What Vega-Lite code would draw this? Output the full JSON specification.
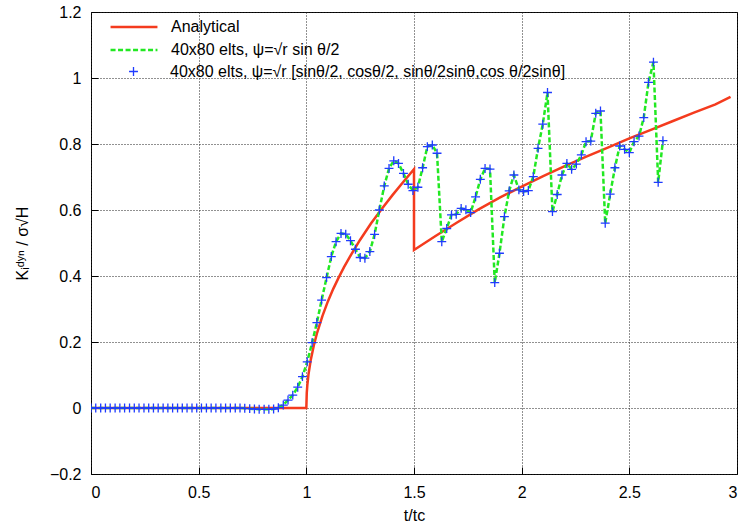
{
  "$schema": "https://vega.github.io/schema/vega-lite/v6.json",
  "width": 646,
  "height": 462,
  "autosize": {"type": "none"},
  "padding": {"left": 91, "top": 12, "right": 2, "bottom": 54},
  "background": "white",
  "config": {
    "view": {"stroke": "black", "strokeWidth": 1},
    "font": "Liberation Sans",
    "axis": {
      "labelFont": "Liberation Sans", "labelFontSize": 16, "labelColor": "black",
      "titleFont": "Liberation Sans", "titleFontSize": 16, "titleFontWeight": "normal", "titleColor": "black",
      "domain": false, "tickColor": "black", "tickWidth": 1,
      "gridColor": "#222", "gridDash": [1, 2], "gridOpacity": 1, "gridWidth": 1
    },
    "legend": {
      "orient": "none", "title": null, "padding": 0,
      "labelFont": "Liberation Sans", "labelFontSize": 16, "labelColor": "black", "labelLimit": 700,
      "labelOffset": 12, "symbolSize": 2200, "rowPadding": 0
    }
  },
  "datasets": {
    "ana": [
      {"t": 0, "k": 0}, {"t": 1, "k": 0}, {"t": 1.002, "k": 0.046}, {"t": 1.005, "k": 0.072},
      {"t": 1.01, "k": 0.102}, {"t": 1.02, "k": 0.144}, {"t": 1.035, "k": 0.19}, {"t": 1.05, "k": 0.228},
      {"t": 1.075, "k": 0.279}, {"t": 1.1, "k": 0.323}, {"t": 1.125, "k": 0.361}, {"t": 1.15, "k": 0.395},
      {"t": 1.175, "k": 0.427}, {"t": 1.2, "k": 0.456}, {"t": 1.25, "k": 0.51}, {"t": 1.3, "k": 0.559},
      {"t": 1.35, "k": 0.603}, {"t": 1.4, "k": 0.645}, {"t": 1.45, "k": 0.685}, {"t": 1.5, "k": 0.724},
      {"t": 1.5, "k": 0.479}, {"t": 1.6, "k": 0.521}, {"t": 1.7, "k": 0.562}, {"t": 1.8, "k": 0.602},
      {"t": 1.9, "k": 0.638}, {"t": 2.0, "k": 0.671}, {"t": 2.1, "k": 0.703}, {"t": 2.2, "k": 0.733},
      {"t": 2.3, "k": 0.762}, {"t": 2.4, "k": 0.789}, {"t": 2.5, "k": 0.817}, {"t": 2.6, "k": 0.843},
      {"t": 2.7, "k": 0.869}, {"t": 2.8, "k": 0.895}, {"t": 2.9, "k": 0.92}, {"t": 2.97, "k": 0.943}
    ],
    "num": [
      {"t": 0, "k": 0}, {"t": 0.022, "k": 0}, {"t": 0.045, "k": 0}, {"t": 0.067, "k": 0},
      {"t": 0.089, "k": 0}, {"t": 0.112, "k": 0}, {"t": 0.134, "k": 0}, {"t": 0.156, "k": 0},
      {"t": 0.179, "k": 0}, {"t": 0.201, "k": 0}, {"t": 0.223, "k": 0}, {"t": 0.246, "k": 0},
      {"t": 0.268, "k": 0}, {"t": 0.29, "k": 0}, {"t": 0.312, "k": 0}, {"t": 0.335, "k": 0},
      {"t": 0.357, "k": 0}, {"t": 0.379, "k": 0}, {"t": 0.402, "k": 0}, {"t": 0.424, "k": 0},
      {"t": 0.446, "k": 0}, {"t": 0.469, "k": 0}, {"t": 0.491, "k": 0}, {"t": 0.513, "k": 0},
      {"t": 0.536, "k": 0}, {"t": 0.558, "k": 0}, {"t": 0.58, "k": 0}, {"t": 0.603, "k": 0},
      {"t": 0.625, "k": 0}, {"t": 0.647, "k": 0}, {"t": 0.67, "k": 0}, {"t": 0.692, "k": 0},
      {"t": 0.714, "k": -0.001}, {"t": 0.737, "k": -0.002}, {"t": 0.759, "k": -0.003}, {"t": 0.781, "k": -0.004},
      {"t": 0.804, "k": -0.004}, {"t": 0.826, "k": -0.004}, {"t": 0.848, "k": -0.003}, {"t": 0.87, "k": 0.001},
      {"t": 0.893, "k": 0.009}, {"t": 0.915, "k": 0.024}, {"t": 0.937, "k": 0.039}, {"t": 0.96, "k": 0.063},
      {"t": 0.982, "k": 0.095}, {"t": 1.004, "k": 0.14}, {"t": 1.027, "k": 0.198}, {"t": 1.049, "k": 0.259},
      {"t": 1.071, "k": 0.327}, {"t": 1.094, "k": 0.395}, {"t": 1.116, "k": 0.459}, {"t": 1.138, "k": 0.504},
      {"t": 1.161, "k": 0.529}, {"t": 1.183, "k": 0.527}, {"t": 1.205, "k": 0.507}, {"t": 1.228, "k": 0.481},
      {"t": 1.25, "k": 0.456}, {"t": 1.272, "k": 0.454}, {"t": 1.295, "k": 0.474}, {"t": 1.317, "k": 0.526},
      {"t": 1.339, "k": 0.6}, {"t": 1.362, "k": 0.673}, {"t": 1.384, "k": 0.726}, {"t": 1.406, "k": 0.749},
      {"t": 1.428, "k": 0.741}, {"t": 1.451, "k": 0.711}, {"t": 1.473, "k": 0.678}, {"t": 1.495, "k": 0.659},
      {"t": 1.518, "k": 0.669}, {"t": 1.54, "k": 0.728}, {"t": 1.562, "k": 0.792}, {"t": 1.585, "k": 0.797},
      {"t": 1.607, "k": 0.772}, {"t": 1.629, "k": 0.504}, {"t": 1.652, "k": 0.544}, {"t": 1.674, "k": 0.585},
      {"t": 1.696, "k": 0.587}, {"t": 1.719, "k": 0.605}, {"t": 1.741, "k": 0.601}, {"t": 1.763, "k": 0.592},
      {"t": 1.786, "k": 0.64}, {"t": 1.808, "k": 0.693}, {"t": 1.83, "k": 0.726}, {"t": 1.853, "k": 0.724},
      {"t": 1.875, "k": 0.38}, {"t": 1.897, "k": 0.469}, {"t": 1.92, "k": 0.58}, {"t": 1.942, "k": 0.658},
      {"t": 1.964, "k": 0.706}, {"t": 1.987, "k": 0.661}, {"t": 2.009, "k": 0.656}, {"t": 2.031, "k": 0.659},
      {"t": 2.054, "k": 0.701}, {"t": 2.076, "k": 0.787}, {"t": 2.098, "k": 0.86}, {"t": 2.12, "k": 0.956},
      {"t": 2.143, "k": 0.595}, {"t": 2.165, "k": 0.647}, {"t": 2.187, "k": 0.706}, {"t": 2.21, "k": 0.741},
      {"t": 2.232, "k": 0.723}, {"t": 2.254, "k": 0.739}, {"t": 2.277, "k": 0.767}, {"t": 2.299, "k": 0.807},
      {"t": 2.321, "k": 0.809}, {"t": 2.344, "k": 0.893}, {"t": 2.366, "k": 0.9}, {"t": 2.388, "k": 0.56},
      {"t": 2.411, "k": 0.648}, {"t": 2.433, "k": 0.728}, {"t": 2.455, "k": 0.794}, {"t": 2.478, "k": 0.784},
      {"t": 2.5, "k": 0.774}, {"t": 2.522, "k": 0.807}, {"t": 2.545, "k": 0.824}, {"t": 2.567, "k": 0.88},
      {"t": 2.589, "k": 0.987}, {"t": 2.612, "k": 1.048}, {"t": 2.634, "k": 0.684}, {"t": 2.656, "k": 0.81}
    ]
  },
  "encoding": {
    "x": {"field": "t", "type": "quantitative", "scale": {"domain": [0, 3], "nice": false, "zero": false},
          "axis": {"orient": "bottom", "title": "t/tc", "values": [0, 0.5, 1, 1.5, 2, 2.5, 3], "format": "~g",
                   "offset": -7, "tickSize": 7, "labelPadding": 10, "titlePadding": 7, "grid": true}},
    "y": {"field": "k", "type": "quantitative", "scale": {"domain": [-0.2, 1.2], "nice": false, "zero": false},
          "axis": {"orient": "left", "title": "Kᵢᵈʸⁿ / σ√H", "values": [-0.2, 0, 0.2, 0.4, 0.6, 0.8, 1, 1.2], "format": "~g",
                   "offset": -7, "tickSize": 7, "labelPadding": 10, "titlePadding": 19, "grid": true}}
  },
  "layer": [
    {
      "data": {"name": "ana"},
      "mark": {"type": "line", "strokeWidth": 2.5, "clip": true},
      "encoding": {
        "color": {
          "datum": "Analytical",
          "scale": {"domain": ["Analytical"], "range": ["#f43b1e"]},
          "legend": {"legendX": 18, "legendY": -10, "symbolType": "stroke", "symbolStrokeWidth": 2.5}
        },
        "order": {"value": null}
      }
    },
    {
      "data": {"name": "num"},
      "mark": {"type": "line", "strokeWidth": 2.5, "color": "#22e822", "clip": true},
      "encoding": {
        "strokeDash": {
          "datum": "40x80 elts, ψ=√r sin θ/2",
          "scale": {"domain": ["40x80 elts, ψ=√r sin θ/2"], "range": [[5, 2.5]]},
          "legend": {"legendX": 18, "legendY": 13, "symbolType": "stroke", "symbolStrokeWidth": 2.5, "symbolStrokeColor": "#22e822"}
        }
      }
    },
    {
      "data": {"name": "num"},
      "mark": {"type": "point", "size": 2200, "strokeWidth": 1.3, "filled": false, "opacity": 1, "color": "#1f3bff", "clip": true},
      "encoding": {
        "shape": {
          "datum": "40x80 elts, ψ=√r [sinθ/2, cosθ/2, sinθ/2sinθ,cos θ/2sinθ]",
          "scale": {"domain": ["40x80 elts, ψ=√r [sinθ/2, cosθ/2, sinθ/2sinθ,cos θ/2sinθ]"], "range": ["M-0.19,0H0.19M0,-0.19V0.19"]},
          "legend": {"legendX": 18, "legendY": 35, "symbolStrokeWidth": 1.3, "symbolStrokeColor": "#1f3bff"}
        }
      }
    }
  ]
}
